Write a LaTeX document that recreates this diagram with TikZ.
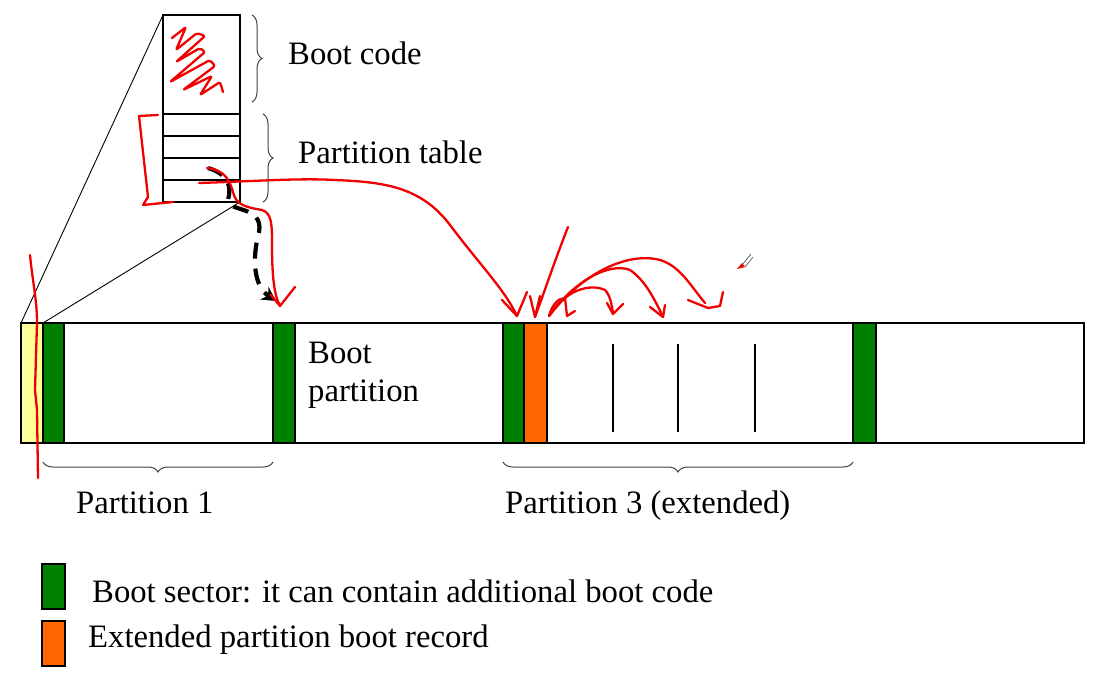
\documentclass[tikz,border=0pt]{standalone}
\usepackage{fontspec}
\setmainfont{Liberation Serif}
\usetikzlibrary{decorations.pathreplacing,arrows.meta}
\definecolor{bsgreen}{RGB}{0,128,0}
\definecolor{eorange}{RGB}{255,102,0}
\definecolor{mbryellow}{RGB}{255,255,153}
\definecolor{inkred}{RGB}{240,0,0}
\begin{document}
\begin{tikzpicture}[x=1pt,y=-1pt,
  txt/.style={font=\fontsize{32.7}{36}\selectfont, inner sep=0pt, anchor=base west},
  ink/.style={draw=inkred, line width=2.3pt, line cap=round, line join=round},
  sect/.style={draw=black, line width=1.5pt},
  thinline/.style={draw=black, line width=0.9pt},
  brc/.style={draw=black!75, line width=1pt, decorate, decoration={brace, amplitude=10pt}},
  dasharrow/.style={draw=black, line width=4.2pt, dash pattern=on 16pt off 10pt, -{Stealth[length=14pt,width=15pt]}},
]
\useasboundingbox (0,0) rectangle (1102,680);

% ---------- zoomed MBR box ----------
\coordinate (mbrTL) at (163,15);
\coordinate (mbrBR) at (240,202);
\draw[sect] (mbrTL) rectangle (mbrBR);
\foreach \yy in {114,136,158,180} \draw[line width=1.5pt] (163,\yy) -- (240,\yy);

% ---------- disk bar ----------
\coordinate (barTL) at (21,323);
\coordinate (barA) at (43,323);
\draw[sect, fill=white] (barTL) rectangle (1084,443);
\draw[sect, fill=mbryellow] (21,323) rectangle (43,443);
\draw[sect, fill=bsgreen] (43,323) rectangle (64,443);
\draw[sect, fill=bsgreen] (273,323) rectangle (295,443);
\draw[sect, fill=bsgreen] (503,323) rectangle (524,443);
\draw[sect, fill=eorange] (524,323) rectangle (547,443);
\draw[sect, fill=bsgreen] (853,323) rectangle (876,443);
\foreach \xx in {613,678,755} \draw[line width=1.3pt] (\xx,344) -- (\xx,432);

% zoom lines
\draw[thinline] (mbrTL) -- (barTL);
\draw[thinline] (mbrBR) -- (barA);

% ---------- braces ----------
\draw[brc] (252,15) -- (252,102);
\draw[brc] (263,114) -- (263,202);
\draw[brc] (273,462) -- (43,462);
\draw[brc] (853,462) -- (503,462);

% ---------- texts ----------
\node[txt] (bootcode) at (288,64) {Boot code};
\node[txt] (ptable) at (298,163) {Partition table};
\node[txt] (bootp1) at (308,363) {Boot};
\node[txt] (bootp2) at (308,401) {partition};
\node[txt] (p1) at (76,513) {Partition 1};
\node[txt] (p3) at (505,513) {Partition 3 (extended)};
\node[txt] (leg1) at (92,602) {Boot sector: it can contain additional boot code};
\node[txt] (leg2) at (88,647) {Extended partition boot record};

% legend swatches
\draw[sect, fill=bsgreen] (42,564) rectangle (65,609);
\draw[sect, fill=eorange] (42,621) rectangle (65,666);

% ---------- black dashed arrow ----------
\coordinate (entry) at (208,168);
\coordinate (bootsec) at (276,301);
\draw[dasharrow] (entry) .. controls (228,174) and (232,186) .. (228,200)
  .. controls (226,212) and (264,205) .. (259,232)
  .. controls (251,262) and (255,287) .. (bootsec);

% ---------- red ink ----------
% scribble in boot code
\draw[ink, rounded corners=2pt] (172,38) -- (186,27) -- (176,50) -- (197,33) -- (205,36) -- (176,62)
  -- (200,48) -- (205,52) -- (170,82) -- (210,60) -- (215,66) -- (183,90) -- (212,76) -- (200,95)
  -- (220,82) -- (223,92);
% bracket left of partition table
\draw[ink] (158,115) -- (139,116) -- (148,197) -- (143,205) -- (173,202);
% vertical mark on the left
\draw[ink] (30,255) .. controls (33,285) and (37,300) .. (37,323) -- (35,390) -- (37,410) -- (38,478);
% long arrow to extended partition
\coordinate (extgreen) at (517,316);
\draw[ink] (199,183) .. controls (260,181) and (300,178) .. (335,180)
  .. controls (380,182) and (420,185) .. (450,225)
  .. controls (480,265) and (505,290) .. (extgreen);
\draw[ink] (502,300) -- (extgreen) -- (527,292);
% arrow to boot partition
\coordinate (bootgreen) at (280,306);
\draw[ink] (207,168) .. controls (226,170) and (230,182) .. (233,192)
  .. controls (236,205) and (245,207) .. (262,210)
  .. controls (272,213) and (272,225) .. (272,245)
  .. controls (272,275) and (274,295) .. (bootgreen) -- (295,287);
\draw[ink] (271,295) -- (bootgreen);
% arrow to EBR
\coordinate (ebr) at (535,317);
\draw[ink] (568,227) .. controls (555,260) and (545,290) .. (ebr);
\draw[ink] (530,296) -- (ebr) -- (540,296);
% chain arcs
\coordinate (chain) at (549,316);
\draw[ink] (chain) .. controls (552,305) and (558,298) .. (565,298) -- (567,316) -- (575,311);
\draw[ink] (chain) .. controls (565,290) and (590,283) .. (605,290)
  .. controls (610,295) and (612,305) .. (613,314);
\draw[ink] (607,303) -- (613,314) -- (623,304);
\draw[ink] (chain) .. controls (575,280) and (610,262) .. (630,270)
  .. controls (645,280) and (655,300) .. (663,317);
\draw[ink] (650,307) -- (663,317) -- (665,305);
\draw[ink] (chain) .. controls (585,270) and (630,252) .. (660,260)
  .. controls (680,266) and (690,285) .. (705,303);
\draw[ink] (688,300) -- (708,308) -- (720,306) -- (723,292);
% pen cursor
\draw[black!60, line width=0.8pt] (742,265) -- (751,254) (745,267) -- (753,257);
\fill[inkred] (737,269) -- (742,263) -- (745,267) -- cycle;
\end{tikzpicture}
\end{document}
